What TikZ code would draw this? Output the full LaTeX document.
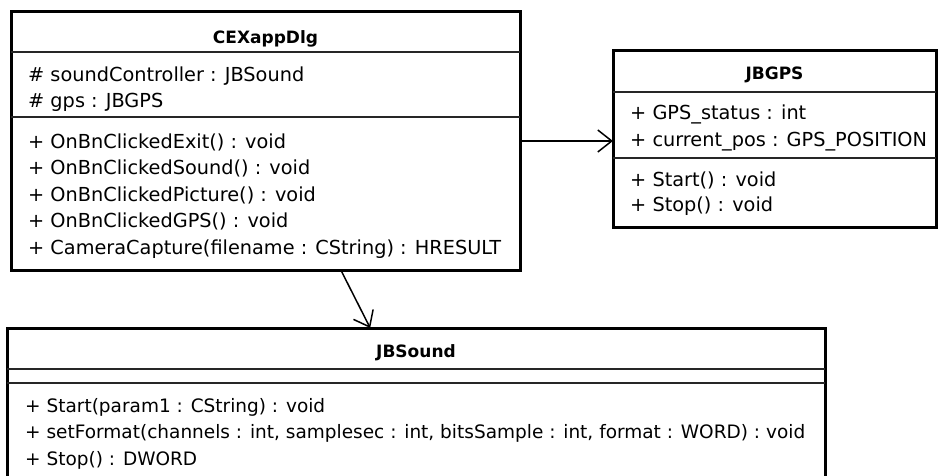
\documentclass[tikz,border=0pt]{standalone}
\usepackage{fontspec}
\setmainfont{DejaVu Sans}
\usetikzlibrary{arrows.meta,calc}
\tikzset{
    classbox/.style = {
        rectangle,
        draw=black,
        line width=3pt,
        fill=white,
        inner sep=0pt,
        outer sep=0pt
    },
    classname/.style = {
        font=\bfseries\fontsize{17}{20}\selectfont,
        anchor=base,
        inner sep=0pt
    },
    member/.style = {
        font=\fontsize{19.3}{22}\selectfont,
        anchor=base west,
        inner sep=0pt
    },
    narrowmember/.style = {
        member,
        font=\fontsize{18.5}{22}\selectfont
    },
    divider/.style = {
        draw=black!85,
        line width=2pt
    },
    assoc/.style = {
        draw=black,
        line width=1.5pt,
        -{Straight Barb[length=14pt,width=22pt,line width=1.5pt]}
    }
}

\begin{document}
\begin{tikzpicture}[x=1pt,y=-1pt]
    \useasboundingbox (0,0) rectangle (939,476);
    \clip (0,0) rectangle (939,476);
    % class boxes
    \node [classbox, minimum width=509pt, minimum height=258pt] (dlg) at (265.5,141) {};
    \node [classbox, minimum width=323pt, minimum height=176pt] (gps) at (774.5,139) {};
    \node [classbox, minimum width=818pt, minimum height=192pt] (snd) at (416,424) {};
    % compartments
    \draw [divider] (dlg.west |- 0,52) -- (dlg.east |- 0,52);
    \draw [divider] (dlg.west |- 0,117) -- (dlg.east |- 0,117);
    \draw [divider] (gps.west |- 0,92) -- (gps.east |- 0,92);
    \draw [divider] (gps.west |- 0,158) -- (gps.east |- 0,158);
    \draw [divider] (snd.west |- 0,369) -- (snd.east |- 0,369);
    \draw [divider] (snd.west |- 0,383) -- (snd.east |- 0,383);
    % CEXappDlg
    \node [classname] (dlgname) at (265.5,43.5) {CEXappDlg};
    \node [member] (dlga1) at (28,82) {\# soundController : JBSound};
    \node [member] (dlga2) at (28,107.5) {\# gps : JBGPS};
    \node [member] (dlgm1) at (28,148) {+ OnBnClickedExit() : void};
    \node [member] (dlgm2) at (28,174.5) {+ OnBnClickedSound() : void};
    \node [member] (dlgm3) at (28,201) {+ OnBnClickedPicture() : void};
    \node [member] (dlgm4) at (28,227.5) {+ OnBnClickedGPS() : void};
    \node [member] (dlgm5) at (28,254) {+ CameraCapture(filename : CString) : HRESULT};
    % JBGPS
    \node [classname] (gpsname) at (774.5,79.5) {JBGPS};
    \node [member] (gpsa1) at (630,120) {+ GPS\_status : int};
    \node [member] (gpsa2) at (630,146.5) {+ current\_pos : GPS\_POSITION};
    \node [member] (gpsm1) at (630,186) {+ Start() : void};
    \node [member] (gpsm2) at (630,211.5) {+ Stop() : void};
    % JBSound
    \node [classname] (sndname) at (416,357) {JBSound};
    \node [narrowmember] (sndm1) at (25,412) {+ Start(param1 : CString) : void};
    \node [narrowmember] (sndm2) at (25,438.5) {+ setFormat(channels : int, samplesec : int, bitsSample : int, format : WORD) : void};
    \node [narrowmember] (sndm3) at (25,465) {+ Stop() : DWORD};
    % associations
    \coordinate (dlgout) at ($(dlg.south west)!0.648!(dlg.south east)$);
    \coordinate (sndin) at ($(snd.north west)!0.444!(snd.north east)$);
    \draw [assoc] (dlg.east) -- (dlg.east -| gps.west);
    \draw [assoc] (dlgout) -- (sndin);
\end{tikzpicture}
\end{document}
